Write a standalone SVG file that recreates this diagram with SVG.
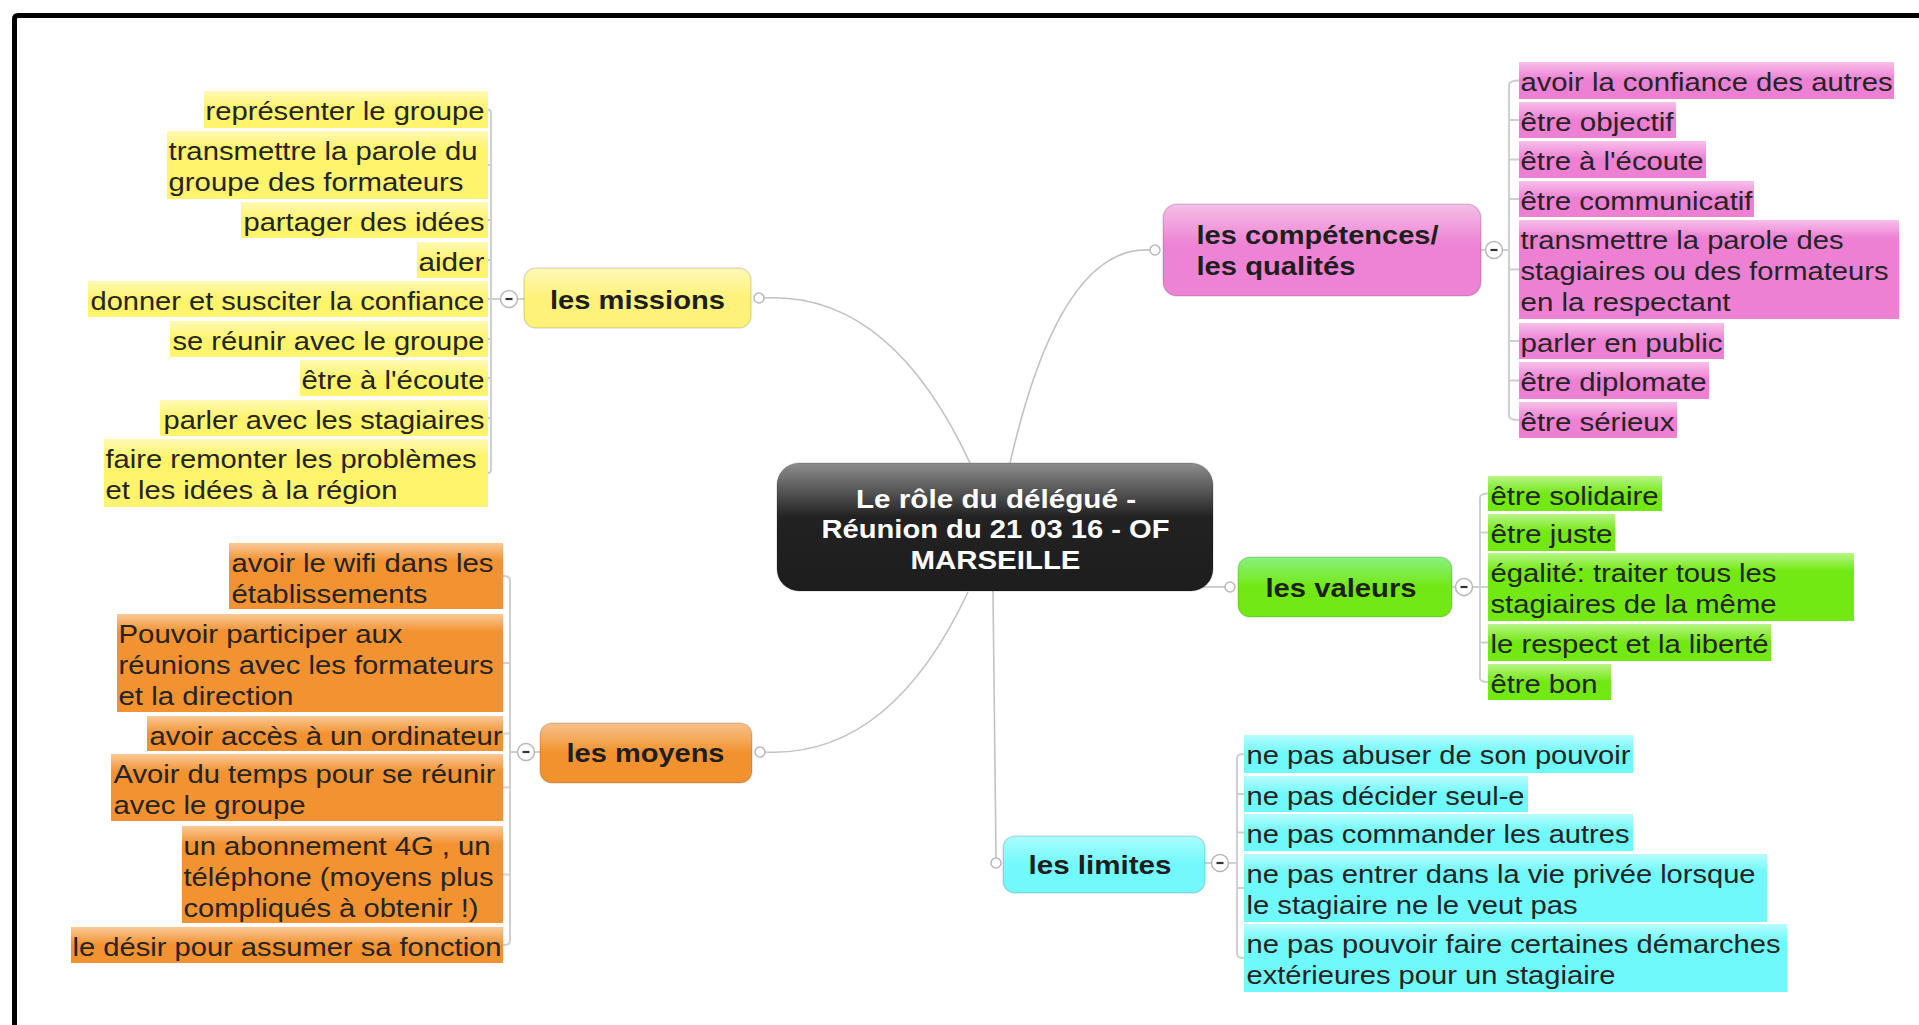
<svg xmlns="http://www.w3.org/2000/svg" width="1919" height="1025" viewBox="0 0 1919 1025">
<defs>
<linearGradient id="hl" x1="0" y1="0" x2="0" y2="1"><stop offset="0" stop-color="#fff" stop-opacity="0.5"/><stop offset="1" stop-color="#fff" stop-opacity="0"/></linearGradient>
<linearGradient id="nY" x1="0" y1="0" x2="0" y2="1"><stop offset="0" stop-color="#FFF9B8"/><stop offset="0.5" stop-color="#FFF27A"/><stop offset="1" stop-color="#FFF27A"/></linearGradient>
<linearGradient id="nO" x1="0" y1="0" x2="0" y2="1"><stop offset="0" stop-color="#F7C28C"/><stop offset="0.5" stop-color="#F2922E"/><stop offset="1" stop-color="#F2922E"/></linearGradient>
<linearGradient id="nP" x1="0" y1="0" x2="0" y2="1"><stop offset="0" stop-color="#F4BEE7"/><stop offset="0.45" stop-color="#EE82D4"/><stop offset="1" stop-color="#EE82D4"/></linearGradient>
<linearGradient id="nG" x1="0" y1="0" x2="0" y2="1"><stop offset="0" stop-color="#8AF080"/><stop offset="0.5" stop-color="#72E914"/><stop offset="1" stop-color="#72E914"/></linearGradient>
<linearGradient id="nC" x1="0" y1="0" x2="0" y2="1"><stop offset="0" stop-color="#ABFCFD"/><stop offset="0.5" stop-color="#72F9FB"/><stop offset="1" stop-color="#72F9FB"/></linearGradient>
<linearGradient id="nK" x1="0" y1="0" x2="0" y2="1"><stop offset="0" stop-color="#8E8E8E"/><stop offset="0.42" stop-color="#222"/><stop offset="1" stop-color="#1d1d1d"/></linearGradient>
</defs>
<style>
text { font-family: "Liberation Sans", Arial, Helvetica, sans-serif; font-size: 26px; fill: #242424; }
rect.hl ~ text { transform: translateY(1.5px); }
.topic text { font-weight: bold; fill: #1e1e1e; }
.center text { font-weight: bold; fill: #ffffff; }
.topic rect, .center rect { stroke: rgba(0,0,0,0.13); stroke-width: 1.5; }
.ly { fill: #FFF46C; } .lo { fill: #F39230; } .lp { fill: #EE80D4; } .lg { fill: #72E912; } .lc { fill: #70F9FB; }
.hl { fill: url(#hl); }
.conn { fill: none; stroke: #c2c2c2; stroke-width: 1.6; }
.br { fill: none; stroke: #cfcfcf; stroke-width: 2; }
.knob { fill: #fff; stroke: #b8b8b8; stroke-width: 1.5; }
.tog { fill: #fff; stroke: #b8b8b8; stroke-width: 1.5; }
.minus { stroke: #333; stroke-width: 2.2; }
</style>
<rect width="1919" height="1025" fill="#fff"/>
<path d="M14.5,1025 V19 Q14.5,15.5 18,15.5 H1919" fill="none" stroke="#000" stroke-width="5"/>

<g id="connectors">
<path class="conn" d="M764,298 Q890,291 970,463"/>
<path class="conn" d="M1010,463 Q1060,245 1150,250"/>
<path class="conn" d="M1200,587 H1225"/>
<path class="conn" d="M765,752 Q890,758 968,592"/>
<path class="conn" d="M993,591 L996,858"/>
<circle class="knob" cx="759" cy="298" r="5"/>
<circle class="knob" cx="1155" cy="250" r="5"/>
<circle class="knob" cx="1230" cy="587" r="5"/>
<circle class="knob" cx="760" cy="752" r="5"/>
<circle class="knob" cx="996" cy="863" r="5"/>
<path class="br" d="M488,109.5 Q491,109.5 491,113 V469.5 Q491,473 488,473 M488,165 H491 M488,220 H491 M488,260 H491 M488,299 H491 M488,339 H491 M488,378 H491 M488,418 H491 M491,299 H500.5 M517.5,299 H524"/>
<path class="br" d="M503,576 Q510,576 510,580 V941 Q510,945 503,945 M503,663 H510 M503,733.5 H510 M503,787.5 H510 M503,874.5 H510 M510,752 H517.5 M534.5,752 H540"/>
<path class="br" d="M1519,80.5 Q1509,80.5 1509,85 V416 Q1509,420 1519,420 M1509,120 H1519 M1509,159.5 H1519 M1509,199 H1519 M1509,269.5 H1519 M1509,341 H1519 M1509,380.5 H1519 M1481,250 H1485.5 M1502.5,250 H1509"/>
<path class="br" d="M1488,493.5 Q1480,493.5 1480,498 V678 Q1480,682 1488,682 M1480,532.5 H1488 M1480,642.5 H1488 M1452,587 H1455.5 M1472.5,587 H1488"/>
<path class="br" d="M1244,754 Q1237,754 1237,758 V954 Q1237,958 1244,958 M1237,794 H1244 M1237,832.5 H1244 M1237,888 H1244 M1205,863 H1211.5 M1228.5,863 H1237"/>
<g><circle class="tog" cx="509" cy="299" r="8.5"/><path class="minus" d="M505.5,299 H512.5"/></g>
<g><circle class="tog" cx="526" cy="752" r="8.5"/><path class="minus" d="M522.5,752 H529.5"/></g>
<g><circle class="tog" cx="1494" cy="250" r="8.5"/><path class="minus" d="M1490.5,250 H1497.5"/></g>
<g><circle class="tog" cx="1464" cy="587" r="8.5"/><path class="minus" d="M1460.5,587 H1467.5"/></g>
<g><circle class="tog" cx="1220" cy="863" r="8.5"/><path class="minus" d="M1216.5,863 H1223.5"/></g>
</g>

<g id="center" class="center">
<rect x="777" y="463" width="436" height="128" rx="22" fill="url(#nK)"/>
<text x="856" y="508" textLength="280" lengthAdjust="spacingAndGlyphs">Le rôle du délégué -</text>
<text x="821.5" y="538" textLength="348" lengthAdjust="spacingAndGlyphs">Réunion du 21 03 16 - OF</text>
<text x="910.5" y="569" textLength="170" lengthAdjust="spacingAndGlyphs">MARSEILLE</text>
</g>

<g id="missions" class="topic">
<rect x="524" y="268" width="227" height="60" rx="12" fill="url(#nY)"/>
<text x="550" y="309" textLength="175" lengthAdjust="spacingAndGlyphs">les missions</text>
</g>
<g id="moyens" class="topic">
<rect x="540" y="723" width="212" height="60" rx="12" fill="url(#nO)"/>
<text x="566.5" y="762" textLength="158" lengthAdjust="spacingAndGlyphs">les moyens</text>
</g>
<g id="competences" class="topic">
<rect x="1163" y="204" width="318" height="92" rx="14" fill="url(#nP)"/>
<text x="1196.5" y="244" textLength="242" lengthAdjust="spacingAndGlyphs">les compétences/</text>
<text x="1196.5" y="275" textLength="159" lengthAdjust="spacingAndGlyphs">les qualités</text>
</g>
<g id="valeurs" class="topic">
<rect x="1238" y="557" width="214" height="60" rx="12" fill="url(#nG)"/>
<text x="1265.5" y="597" textLength="151" lengthAdjust="spacingAndGlyphs">les valeurs</text>
</g>
<g id="limites" class="topic">
<rect x="1003" y="836" width="202" height="57" rx="12" fill="url(#nC)"/>
<text x="1028.5" y="874" textLength="143" lengthAdjust="spacingAndGlyphs">les limites</text>
</g>

<g id="m1"><rect class="ly" x="204" y="91" width="284" height="37"/><rect class="hl" x="204" y="91" width="284" height="18"/><text x="205.5" y="118" textLength="279" lengthAdjust="spacingAndGlyphs">représenter le groupe</text></g>
<g id="m2"><rect class="ly" x="167" y="131" width="321" height="68"/><rect class="hl" x="167" y="131" width="321" height="18"/><text x="168.5" y="158" textLength="309" lengthAdjust="spacingAndGlyphs">transmettre la parole du</text><text x="168.5" y="189" textLength="295" lengthAdjust="spacingAndGlyphs">groupe des formateurs</text></g>
<g id="m3"><rect class="ly" x="241" y="202" width="247" height="36"/><rect class="hl" x="241" y="202" width="247" height="18"/><text x="243.5" y="229" textLength="241" lengthAdjust="spacingAndGlyphs">partager des idées</text></g>
<g id="m4"><rect class="ly" x="417" y="242" width="71" height="36"/><rect class="hl" x="417" y="242" width="71" height="18"/><text x="418.5" y="269" textLength="66" lengthAdjust="spacingAndGlyphs">aider</text></g>
<g id="m5"><rect class="ly" x="88" y="281" width="400" height="36"/><rect class="hl" x="88" y="281" width="400" height="18"/><text x="90.5" y="308" textLength="394" lengthAdjust="spacingAndGlyphs">donner et susciter la confiance</text></g>
<g id="m6"><rect class="ly" x="170" y="321" width="318" height="36"/><rect class="hl" x="170" y="321" width="318" height="18"/><text x="172.5" y="348" textLength="312" lengthAdjust="spacingAndGlyphs">se réunir avec le groupe</text></g>
<g id="m7"><rect class="ly" x="300" y="360" width="188" height="36"/><rect class="hl" x="300" y="360" width="188" height="18"/><text x="301.5" y="387" textLength="183" lengthAdjust="spacingAndGlyphs">être à l'écoute</text></g>
<g id="m8"><rect class="ly" x="160" y="400" width="328" height="36"/><rect class="hl" x="160" y="400" width="328" height="18"/><text x="163.5" y="427" textLength="321" lengthAdjust="spacingAndGlyphs">parler avec les stagiaires</text></g>
<g id="m9"><rect class="ly" x="104" y="439" width="384" height="68"/><rect class="hl" x="104" y="439" width="384" height="18"/><text x="105.5" y="466" textLength="371" lengthAdjust="spacingAndGlyphs">faire remonter les problèmes</text><text x="105.5" y="497" textLength="292" lengthAdjust="spacingAndGlyphs">et les idées à la région</text></g>

<g id="o1"><rect class="lo" x="229" y="543" width="274" height="66"/><rect class="hl" x="229" y="543" width="274" height="18"/><text x="231.5" y="570" textLength="262" lengthAdjust="spacingAndGlyphs">avoir le wifi dans les</text><text x="231.5" y="601" textLength="196" lengthAdjust="spacingAndGlyphs">établissements</text></g>
<g id="o2"><rect class="lo" x="117" y="614" width="386" height="98"/><rect class="hl" x="117" y="614" width="386" height="18"/><text x="118.5" y="641" textLength="284" lengthAdjust="spacingAndGlyphs">Pouvoir participer aux</text><text x="118.5" y="672" textLength="375" lengthAdjust="spacingAndGlyphs">réunions avec les formateurs</text><text x="118.5" y="703" textLength="175" lengthAdjust="spacingAndGlyphs">et la direction</text></g>
<g id="o3"><rect class="lo" x="147" y="716" width="356" height="35"/><rect class="hl" x="147" y="716" width="356" height="18"/><text x="149.5" y="743" textLength="353" lengthAdjust="spacingAndGlyphs">avoir accès à un ordinateur</text></g>
<g id="o4"><rect class="lo" x="111" y="754" width="392" height="67"/><rect class="hl" x="111" y="754" width="392" height="18"/><text x="113.5" y="781" textLength="382" lengthAdjust="spacingAndGlyphs">Avoir du temps pour se réunir</text><text x="113.5" y="812" textLength="192" lengthAdjust="spacingAndGlyphs">avec le groupe</text></g>
<g id="o5"><rect class="lo" x="182" y="826" width="321" height="97"/><rect class="hl" x="182" y="826" width="321" height="18"/><text x="183.5" y="853" textLength="307" lengthAdjust="spacingAndGlyphs">un abonnement 4G , un</text><text x="183.5" y="884" textLength="310" lengthAdjust="spacingAndGlyphs">téléphone (moyens plus</text><text x="183.5" y="915" textLength="295" lengthAdjust="spacingAndGlyphs">compliqués à obtenir !)</text></g>
<g id="o6"><rect class="lo" x="71" y="927" width="432" height="36"/><rect class="hl" x="71" y="927" width="432" height="18"/><text x="72.5" y="954" textLength="429" lengthAdjust="spacingAndGlyphs">le désir pour assumer sa fonction</text></g>

<g id="p1"><rect class="lp" x="1519" y="62" width="375" height="37"/><rect class="hl" x="1519" y="62" width="375" height="18"/><text x="1520.5" y="89" textLength="372" lengthAdjust="spacingAndGlyphs">avoir la confiance des autres</text></g>
<g id="p2"><rect class="lp" x="1519" y="102" width="157" height="36"/><rect class="hl" x="1519" y="102" width="157" height="18"/><text x="1520.5" y="129" textLength="153" lengthAdjust="spacingAndGlyphs">être objectif</text></g>
<g id="p3"><rect class="lp" x="1519" y="141" width="187" height="37"/><rect class="hl" x="1519" y="141" width="187" height="18"/><text x="1520.5" y="168" textLength="183" lengthAdjust="spacingAndGlyphs">être à l'écoute</text></g>
<g id="p4"><rect class="lp" x="1519" y="181" width="235" height="36"/><rect class="hl" x="1519" y="181" width="235" height="18"/><text x="1520.5" y="208" textLength="232" lengthAdjust="spacingAndGlyphs">être communicatif</text></g>
<g id="p5"><rect class="lp" x="1519" y="220" width="380" height="99"/><rect class="hl" x="1519" y="220" width="380" height="18"/><text x="1520.5" y="247" textLength="323" lengthAdjust="spacingAndGlyphs">transmettre la parole des</text><text x="1520.5" y="278" textLength="368" lengthAdjust="spacingAndGlyphs">stagiaires ou des formateurs</text><text x="1520.5" y="309" textLength="210" lengthAdjust="spacingAndGlyphs">en la respectant</text></g>
<g id="p6"><rect class="lp" x="1519" y="323" width="205" height="36"/><rect class="hl" x="1519" y="323" width="205" height="18"/><text x="1520.5" y="350" textLength="202" lengthAdjust="spacingAndGlyphs">parler en public</text></g>
<g id="p7"><rect class="lp" x="1519" y="362" width="190" height="37"/><rect class="hl" x="1519" y="362" width="190" height="18"/><text x="1520.5" y="389" textLength="186" lengthAdjust="spacingAndGlyphs">être diplomate</text></g>
<g id="p8"><rect class="lp" x="1519" y="402" width="158" height="36"/><rect class="hl" x="1519" y="402" width="158" height="18"/><text x="1520.5" y="429" textLength="154" lengthAdjust="spacingAndGlyphs">être sérieux</text></g>

<g id="v1"><rect class="lg" x="1488" y="476" width="174" height="35"/><rect class="hl" x="1488" y="476" width="174" height="18"/><text x="1490.5" y="503" textLength="168" lengthAdjust="spacingAndGlyphs">être solidaire</text></g>
<g id="v2"><rect class="lg" x="1488" y="514" width="127" height="37"/><rect class="hl" x="1488" y="514" width="127" height="18"/><text x="1490.5" y="541" textLength="122" lengthAdjust="spacingAndGlyphs">être juste</text></g>
<g id="v3"><rect class="lg" x="1488" y="553" width="366" height="68"/><rect class="hl" x="1488" y="553" width="366" height="18"/><text x="1490.5" y="580" textLength="286" lengthAdjust="spacingAndGlyphs">égalité: traiter tous les</text><text x="1490.5" y="611" textLength="286" lengthAdjust="spacingAndGlyphs">stagiaires de la même</text></g>
<g id="v4"><rect class="lg" x="1488" y="624" width="283" height="37"/><rect class="hl" x="1488" y="624" width="283" height="18"/><text x="1490.5" y="651" textLength="278" lengthAdjust="spacingAndGlyphs">le respect et la liberté</text></g>
<g id="v5"><rect class="lg" x="1488" y="664" width="123" height="36"/><rect class="hl" x="1488" y="664" width="123" height="18"/><text x="1490.5" y="691" textLength="107" lengthAdjust="spacingAndGlyphs">être bon</text></g>

<g id="l1"><rect class="lc" x="1244" y="735" width="389" height="38"/><rect class="hl" x="1244" y="735" width="389" height="18"/><text x="1246.5" y="762" textLength="384" lengthAdjust="spacingAndGlyphs">ne pas abuser de son pouvoir</text></g>
<g id="l2"><rect class="lc" x="1244" y="776" width="284" height="36"/><rect class="hl" x="1244" y="776" width="284" height="18"/><text x="1246.5" y="803" textLength="278" lengthAdjust="spacingAndGlyphs">ne pas décider seul-e</text></g>
<g id="l3"><rect class="lc" x="1244" y="814" width="389" height="37"/><rect class="hl" x="1244" y="814" width="389" height="18"/><text x="1246.5" y="841" textLength="383" lengthAdjust="spacingAndGlyphs">ne pas commander les autres</text></g>
<g id="l4"><rect class="lc" x="1244" y="854" width="523" height="68"/><rect class="hl" x="1244" y="854" width="523" height="18"/><text x="1246.5" y="881" textLength="509" lengthAdjust="spacingAndGlyphs">ne pas entrer dans la vie privée lorsque</text><text x="1246.5" y="912" textLength="331" lengthAdjust="spacingAndGlyphs">le stagiaire ne le veut pas</text></g>
<g id="l5"><rect class="lc" x="1244" y="924" width="543" height="68"/><rect class="hl" x="1244" y="924" width="543" height="18"/><text x="1246.5" y="951" textLength="534" lengthAdjust="spacingAndGlyphs">ne pas pouvoir faire certaines démarches</text><text x="1246.5" y="982" textLength="369" lengthAdjust="spacingAndGlyphs">extérieures pour un stagiaire</text></g>
</svg>
